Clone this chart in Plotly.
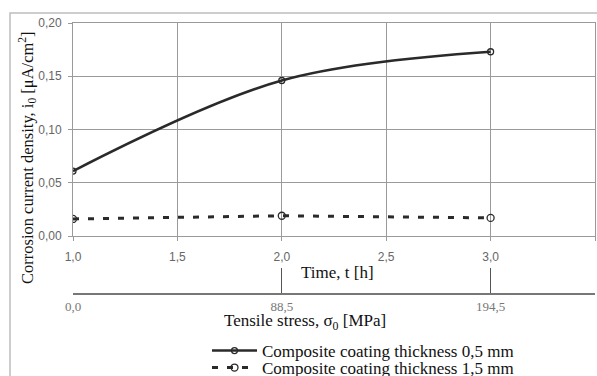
import plotly.graph_objects as go

# ---- data ----
time_h = [1.0, 2.0, 3.0]
stress_labels = ["0,0", "88,5", "194,5"]
i0_05mm = [0.061, 0.146, 0.173]
i0_15mm = [0.016, 0.019, 0.017]
series_names = ["Composite coating thickness 0,5 mm", "Composite coating thickness 1,5 mm"]

W, H = 597, 376
L, R, T, B = 73, 595, 23, 316
def fx(px): return (px - L) / (R - L)
def fy(py): return (B - py) / (B - T)
def cx(px): return px / W
def cy(py): return 1 - py / H

serif = "Liberation Serif"
sans = "Liberation Sans"
grid = "#9a9a9a"

fig = go.Figure()
fig.add_trace(go.Scatter(
    x=time_h, y=i0_05mm, name=series_names[0], mode="lines+markers",
    line=dict(color="#2a2a2a", width=2.5, shape="spline", smoothing=1.0),
    marker=dict(symbol="circle-open", size=6, color="#2a2a2a", line=dict(width=1.3)),
    legend="legend"))
fig.add_trace(go.Scatter(
    x=time_h, y=i0_15mm, name=series_names[1], mode="lines+markers",
    line=dict(color="#2a2a2a", width=3, dash="6px,9px"),
    marker=dict(symbol="circle-open", size=7, color="#2a2a2a", line=dict(width=1.3)),
    legend="legend2"))
# invisible trace to host the stress axis
fig.add_trace(go.Scatter(x=time_h, y=[0, 0, 0], xaxis="x2", yaxis="y2",
                         mode="markers", marker=dict(opacity=0), showlegend=False,
                         hoverinfo="skip"))

fig.update_layout(
    width=W, height=H,
    margin=dict(l=L, r=W - R, t=T, b=H - B, autoexpand=False),
    paper_bgcolor="white", plot_bgcolor="white",
    separators=", ",
    xaxis=dict(range=[1.0, 3.5], tickvals=[1.0, 1.5, 2.0, 2.5, 3.0, 3.5], tickformat=".1f",
               showgrid=True, gridcolor=grid, gridwidth=1, showline=True, linecolor=grid,
               mirror=True, ticks="outside", ticklen=4, tickcolor=grid,
               ticklabelstandoff=6,
               tickfont=dict(family=sans, size=12, color="#666"), zeroline=False,
               anchor="y"),
    yaxis=dict(domain=[fy(236), 1], range=[0, 0.20], dtick=0.05, tickformat=".2f",
               showgrid=True, gridcolor=grid, gridwidth=1, showline=True, linecolor=grid,
               mirror=True, ticks="outside", ticklen=4, tickcolor=grid,
               ticklabelstandoff=4,
               tickfont=dict(family=sans, size=12, color="#666"), zeroline=False),
    xaxis2=dict(range=[1.0, 3.5], anchor="y2", tickvals=time_h + [3.5],
                ticktext=stress_labels + [""], showgrid=False, showline=True,
                linecolor="#777", linewidth=1.5, ticks="inside", ticklen=25,
                tickcolor="#555", tickwidth=1.2, ticklabelstandoff=1,
                tickfont=dict(family=serif, size=13, color="#777"), zeroline=False),
    yaxis2=dict(domain=[fy(293), fy(260)], visible=False, range=[0, 1]),
    showlegend=True,
    legend=dict(xref="container", yref="container", x=cx(207), y=cy(351),
                xanchor="left", yanchor="middle",
                bgcolor="rgba(0,0,0,0)", itemwidth=45,
                font=dict(family=serif, size=17, color="#111")),
    legend2=dict(xref="container", yref="container", x=cx(207), y=cy(368),
                 xanchor="left", yanchor="middle",
                 bgcolor="rgba(0,0,0,0)", itemwidth=45,
                 font=dict(family=serif, size=17, color="#111")),
    annotations=[
        dict(text="Corrosion current density, i<sub>0</sub> [μA/cm<sup>2</sup>]",
             xref="paper", yref="paper", x=fx(27), y=fy(158), textangle=-90,
             xanchor="center", yanchor="middle",
             showarrow=False, font=dict(family=serif, size=16.5, color="#111")),
        dict(text="Time, t [h]", xref="paper", yref="paper", x=fx(337), y=fy(272),
             xanchor="center", yanchor="middle",
             showarrow=False, font=dict(family=serif, size=17, color="#111")),
        dict(text="Tensile stress, σ<sub>0</sub> [MPa]", xref="paper", yref="paper",
             x=fx(305), y=fy(322), xanchor="center", yanchor="middle", showarrow=False,
             font=dict(family=serif, size=17, color="#111")),
    ],
    shapes=[
        dict(type="rect", xref="paper", yref="paper", x0=fx(10), y0=fy(385),
             x1=fx(605), y1=fy(13), line=dict(color="#bdbdbd", width=1.5),
             layer="below"),
    ],
)

fig.write_html("out.html")
